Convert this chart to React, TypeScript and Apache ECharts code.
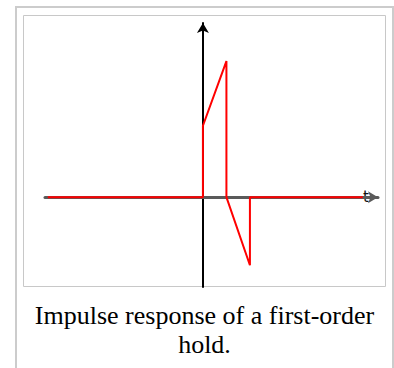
import React, { useEffect, useRef } from "react";
import * as echarts from "echarts";

// Impulse response of a first-order hold (t in units of T)
const timeValues = [-6.6, 0, 0, 1, 1, 2, 2, 6.8];
const responseValues = [0, 0, 1.05, 2, 0, -1, 0, 0];
const captionLines = ["Impulse response of a first-order", "hold."];
const axisName = "t";

export default function App() {
  const ref = useRef<HTMLDivElement>(null);
  useEffect(() => {
    if (!ref.current) return;
    const chart = echarts.init(ref.current, undefined, { renderer: "svg" });
    const data = timeValues.map((t, i) => [t, responseValues[i]]);
    chart.setOption({
      animation: false,
      backgroundColor: "#ffffff",
      grid: { left: 45, right: 16, top: 23, bottom: 81 },
      xAxis: {
        type: "value",
        min: -6.72,
        max: 7.45,
        name: axisName,
        nameLocation: "end",
        nameGap: -15,
        nameTextStyle: { color: "#111", fontSize: 15, fontFamily: "DejaVu Sans", verticalAlign: "middle" },
        axisLine: {
          show: true,
          onZero: true,
          symbol: ["none", "arrow"],
          symbolSize: [9, 10],
          lineStyle: { color: "#5a5a5a", width: 3 },
        },
        axisTick: { show: false },
        axisLabel: { show: false },
        splitLine: { show: false },
      },
      yAxis: {
        type: "value",
        min: -1.32,
        max: 2.56,
        axisLine: {
          show: true,
          onZero: true,
          symbol: ["none", "arrow"],
          symbolSize: [9, 10],
          lineStyle: { color: "#000000", width: 2 },
        },
        axisTick: { show: false },
        axisLabel: { show: false },
        splitLine: { show: false },
      },
      series: [
        {
          type: "line",
          data,
          symbol: "none",
          lineStyle: { color: "#ff0000", width: 2 },
          z: 3,
        },
      ],
      graphic: [
        {
          type: "rect",
          shape: { x: 16, y: 7, width: 377, height: 380 },
          style: { fill: "none", stroke: "#cccccc", lineWidth: 2 },
          z: -1,
          silent: true,
        },
        {
          type: "rect",
          shape: { x: 23.5, y: 15.5, width: 362, height: 271 },
          style: { fill: "none", stroke: "#c8c8c8", lineWidth: 1 },
          z: -1,
          silent: true,
        },
        {
          type: "text",
          x: 204.5,
          y: 315,
          style: {
            text: captionLines[0],
            font: "26px 'Liberation Serif'",
            fill: "#000000",
            align: "center",
            verticalAlign: "middle",
          },
        },
        {
          type: "text",
          x: 204.5,
          y: 344,
          style: {
            text: captionLines[1],
            font: "26px 'Liberation Serif'",
            fill: "#000000",
            align: "center",
            verticalAlign: "middle",
          },
        },
      ],
    });
    return () => chart.dispose();
  }, []);
  return (
    <div
      ref={ref}
      style={{ position: "absolute", left: 0, top: 0, width: 394, height: 368 }}
    />
  );
}
